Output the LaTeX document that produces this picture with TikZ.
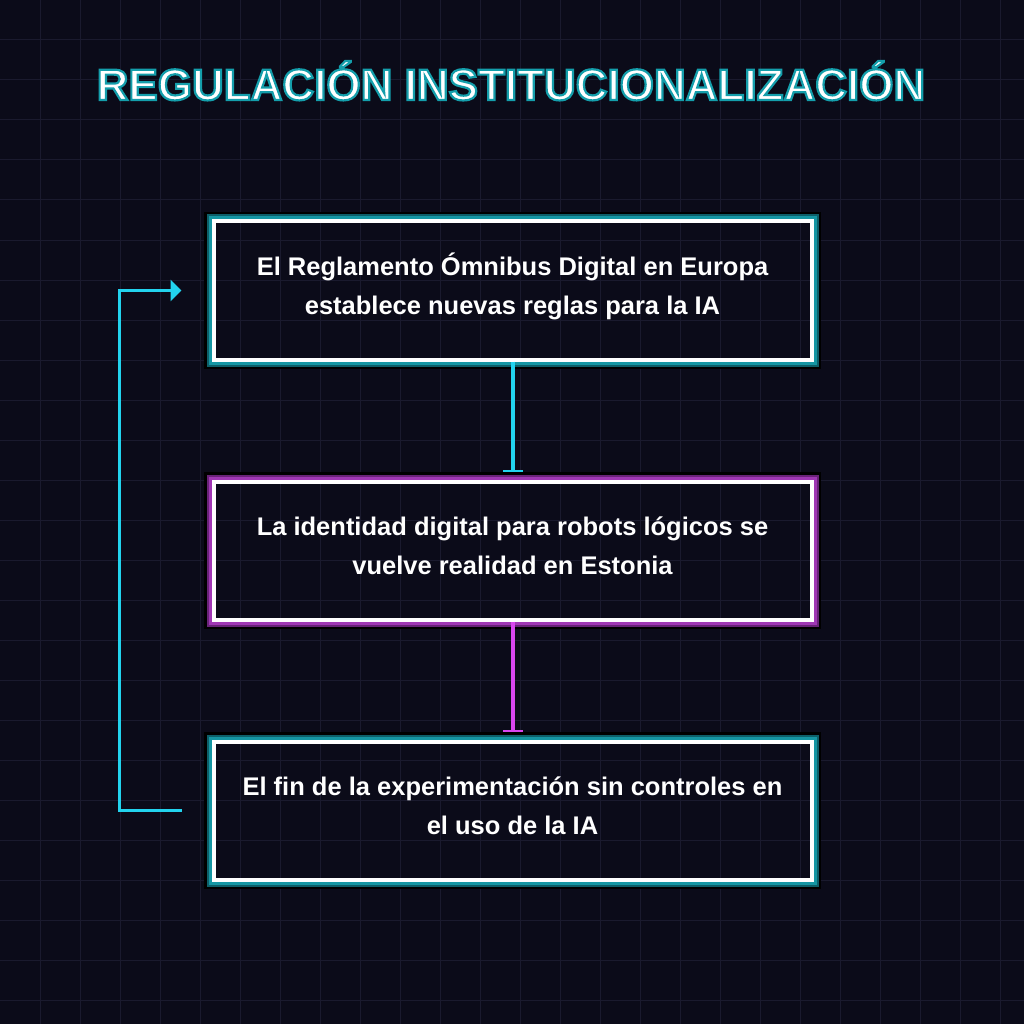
\documentclass[tikz,border=0pt]{standalone}
\usepackage{fontspec}
\setmainfont{Liberation Sans}
\usetikzlibrary{arrows.meta,positioning}

\definecolor{bg}{RGB}{11,11,25}
\definecolor{gridcol}{RGB}{26,26,46}
\definecolor{neoncyan}{RGB}{34,211,238}
\definecolor{neonmagenta}{RGB}{217,70,239}
\definecolor{rimcyan}{RGB}{21,150,163}
\definecolor{rimcyandark}{RGB}{13,95,105}
\definecolor{rimmagenta}{RGB}{160,55,180}
\definecolor{rimmagentadark}{RGB}{105,35,120}

% outline for the heading (fill white, stroke teal)
\newcommand\headingstroke{\special{pdf:literal direct 2 Tr 2.2 w 0.08 0.62 0.67 RG}}

% coloured rim round a card
\newcommand\neonrim[3]{%
  \draw[line width=2.5pt, black] ([shift={(-6pt,6pt)}]#1.north west) rectangle ([shift={(6pt,-6pt)}]#1.south east);
  \draw[line width=2pt, #3] ([shift={(-4pt,4pt)}]#1.north west) rectangle ([shift={(4pt,-4pt)}]#1.south east);
  \draw[line width=3pt, #2] ([shift={(-1.5pt,1.5pt)}]#1.north west) rectangle ([shift={(1.5pt,-1.5pt)}]#1.south east);
}

\begin{document}
\begin{tikzpicture}[x=1pt, y=-1pt, node distance=118pt,
  gridline/.style={draw=gridcol, line width=1pt},
  heading/.style={anchor=base, text=white, font=\fontsize{44pt}{50pt}\selectfont\bfseries},
  card/.style={draw=white, line width=4pt, minimum width=598pt, minimum height=138pt, align=center, text=white, text height=47pt, text depth=0pt, font=\fontsize{25.5pt}{39pt}\selectfont\bfseries},
  link/.style={line width=4pt, -{Bar[width=20pt, line width=2pt]}, shorten >=8pt},
  loopback/.style={draw=neoncyan, line width=3.5pt, -{Triangle[width=21pt, length=11pt]}, shorten <=30pt, shorten >=30pt}]
\useasboundingbox (0,0) rectangle (1024,1024);
\fill[bg] (0,0) rectangle (1024,1024);
\foreach \k in {40,80,...,1000} {
  \draw[gridline] (\k,0) -- (\k,1024);
  \draw[gridline] (0,\k) -- (1024,\k);
}

\node[heading] (title) at (511,100) {\headingstroke REGULACIÓN INSTITUCIONALIZACIÓN};

\node[card] (reglamento) at (512.5,290.5) {El Reglamento Ómnibus Digital en Europa\\establece nuevas reglas para la IA};
\node[card, below=of reglamento] (identidad) {La identidad digital para robots lógicos se\\vuelve realidad en Estonia};
\node[card, below=of identidad] (fin) {El fin de la experimentación sin controles en\\el uso de la IA};

\neonrim{reglamento}{rimcyan}{rimcyandark}
\neonrim{identidad}{rimmagenta}{rimmagentadark}
\neonrim{fin}{rimcyan}{rimcyandark}

\draw[link, neoncyan] (reglamento) -- (identidad);
\draw[link, neonmagenta] (identidad) -- (fin);
\draw[loopback] (fin.west) -- ++(-92,0) |- (reglamento.west);
\end{tikzpicture}
\end{document}
